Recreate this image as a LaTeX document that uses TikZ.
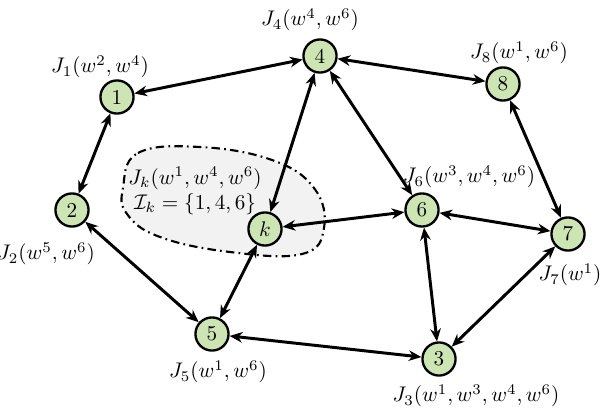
\documentclass[tikz,border=0pt]{standalone}
\usepackage{amsmath,amssymb}
\usetikzlibrary{arrows.meta}

\definecolor{agentgreen}{RGB}{205,229,178}

\begin{document}
\begin{tikzpicture}[x=0.0166cm,y=-0.0166cm,
  agent/.style={draw,circle,line width=1.1pt,fill=agentgreen,minimum size=0.55cm,inner sep=0pt},
  link/.style={{Stealth[length=6pt,width=5pt]}-{Stealth[length=6pt,width=5pt]},line width=1.4pt},
  region/.style={line width=1pt,dash pattern=on 4pt off 2pt on 0.8pt off 2pt,fill=gray!10}]

\useasboundingbox (0,0) rectangle (601,409);

% neighbourhood of agent k
\draw[region] plot[smooth cycle,tension=0.7] coordinates
  {(123,188) (138,153) (200,147) (272,160) (314,188) (324,228) (302,254) (230,252) (160,237) (127,214)};

\node[agent] (n1) at (117,97) {1};
\node[agent] (n2) at (72,210) {2};
\node[agent] (n3) at (439,359) {3};
\node[agent] (n4) at (320,56) {4};
\node[agent] (n5) at (212,334) {5};
\node[agent] (n6) at (422,210) {6};
\node[agent] (n7) at (568,234) {7};
\node[agent] (n8) at (503,84) {8};
\node[agent] (nk) at (265,229) {$k$};

\foreach \a/\b in {n1/n4,n1/n2,n2/n5,n4/nk,n4/n6,n4/n8,n8/n7,nk/n6,nk/n5,n5/n3,n6/n7,n6/n3,n7/n3}{
  \draw[link] (\a) -- (\b);
}

\node (l1) at (100,67) {$J_1(w^2,w^4)$};
\node (l2) at (46,254) {$J_2(w^5,w^6)$};
\node (l3) at (476,396) {$J_3(w^1,w^3,w^4,w^6)$};
\node (l4) at (310,20) {$J_4(w^4,w^6)$};
\node (l5) at (218,372) {$J_5(w^1,w^6)$};
\node (l6) at (469,177) {$J_6(w^3,w^4,w^6)$};
\node (l7) at (570,275) {$J_7(w^1)$};
\node (l8) at (519,53) {$J_8(w^1,w^6)$};
\node[align=center,inner sep=0pt] (lk) at (195,191) {$J_k(w^1,w^4,w^6)$\\$\mathcal{I}_k=\{1,4,6\}$};

\end{tikzpicture}
\end{document}
